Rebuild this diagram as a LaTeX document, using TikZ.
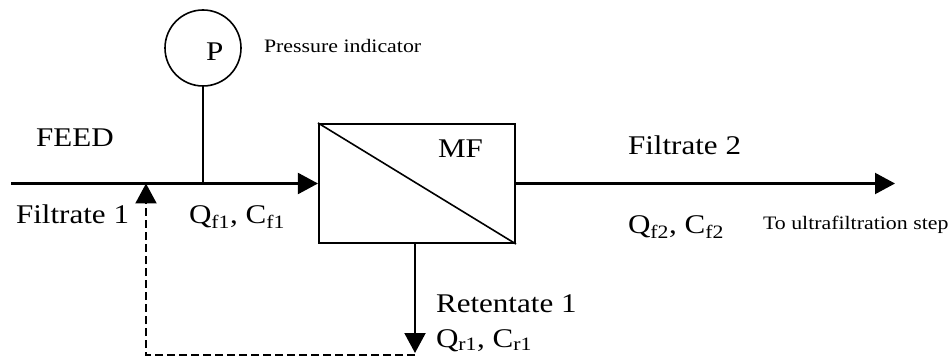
\documentclass[tikz,border=0pt]{standalone}
\usepackage{fontspec}
\setmainfont{Liberation Serif}[FakeStretch=1.15]
\usepackage{tikz}
\usetikzlibrary{arrows.meta,shapes,positioning,calc}

\newcommand{\bigfont}{\fontsize{27}{30}\selectfont}
\newcommand{\smallfont}{\fontsize{19}{22}\selectfont}

\begin{document}
\begin{tikzpicture}[x=1pt, y=-1pt, line width=2.1pt]
        \tikzstyle{unit}=[rectangle, draw=black, fill=white, minimum width=196pt, minimum height=119pt, inner sep=0pt]
        \tikzstyle{gauge}=[circle, draw=black, minimum size=76pt, inner sep=0pt, line width=1.6pt]
        \tikzstyle{flow}=[-{Triangle[length=20pt,width=21pt]}]
        \tikzstyle{recycle}=[flow, dash pattern=on 8pt off 4pt]
        \tikzstyle{tag}=[inner sep=0pt, anchor=base west, font=\bigfont]
        \tikzstyle{note}=[inner sep=0pt, anchor=base west, font=\smallfont]
        \useasboundingbox (0,0) rectangle (948,358);

        % Membrane unit
        \node (mf) [unit] at (417,183.5) {};
        \draw[line width=1.6pt] (mf.north west) -- (mf.south east);
        \node (mflabel) [tag] at (437,158) {MF};

        % Feed line
        \coordinate (feedin) at (11,183.5);
        \coordinate (mix) at (146,183.5);
        \node (feed) [tag] at (35,147) {FEED};
        \node (filt1) [tag] at (15,224) {Filtrate 1};
        \node (qf1) [tag] at (188,224) {Q\textsubscript{f1}, C\textsubscript{f1}};

        % Pressure indicator
        \node (pi) [gauge] at (203,48) {};
        \node (pletter) [tag] at (205,61) {P};
        \node (pinote) [note] at (263,53) {Pressure indicator};
        \coordinate (tap) at (pi.south |- mf.west);

        % Filtrate line
        \coordinate (filtout) at (895,183.5);
        \node (filt2) [tag] at (627,155) {Filtrate 2};
        \node (qf2) [tag] at (627,234) {Q\textsubscript{f2}, C\textsubscript{f2}};
        \node (uf) [note] at (762,230) {To ultrafiltration step};

        % Retentate line
        \coordinate (retout) at (415,353);
        \coordinate (retback) at (415,355);
        \node (ret) [tag] at (435,312) {Retentate 1};
        \node (qr1) [tag] at (435,347) {Q\textsubscript{r1}, C\textsubscript{r1}};

        % Arrows
        \draw[flow] (feedin) -- (mf.west);
        \draw (pi.south) -- (tap);
        \draw[flow] (mf.east) -- (filtout);
        \draw[flow] (mf.south -| retout) -- (retout);
        \draw[recycle] (retback) -| (mix);
    \end{tikzpicture}
\end{document}
